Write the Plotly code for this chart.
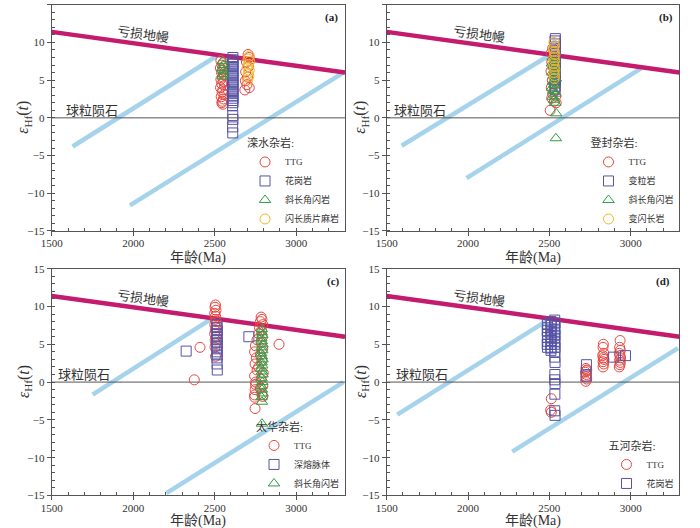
import plotly.graph_objects as go

FONT = "Liberation Serif, Noto Sans CJK SC, serif"
RED = "#e8473f"
PURPLE = "#5552a6"
GREEN = "#2e9e45"
ORANGE = "#f2b62a"
DM_COLOR = "#c41b6e"
CRUST_COLOR = "#a6d3ec"
AXIS_COLOR = "#555555"

# reference curves shared by all panels
dm_age = [1500, 3300]
dm_ehf = [11.4, 6.0]
chur_age = [1500, 3300]
chur_ehf = [0, 0]

# crustal evolution lines, read per panel
a_crust1_age = [1628, 2520]
a_crust1_ehf = [-3.8, 8.3]
a_crust2_age = [1980, 3290]
a_crust2_ehf = [-11.6, 6.0]
b_crust1_age = [1592, 2500]
b_crust1_ehf = [-3.7, 8.3]
b_crust2_age = [1991, 3066]
b_crust2_ehf = [-8.0, 6.6]
c_crust1_age = [1751, 2489]
c_crust1_ehf = [-1.65, 8.5]
c_crust2_age = [2204, 3290]
c_crust2_ehf = [-14.7, 0.0]
d_crust1_age = [1565, 2483]
d_crust1_ehf = [-4.3, 8.1]
d_crust2_age = [2272, 3291]
d_crust2_ehf = [-9.2, 4.5]

# (a) 滦水杂岩
a_ttg_age = [2538, 2552, 2545, 2560, 2535, 2550, 2542, 2557, 2548, 2538, 2555,
             2543, 2560, 2536, 2550, 2546, 2558, 2540, 2553, 2547, 2544, 2550,
             2705, 2712, 2695, 2708, 2690, 2702, 2688, 2698, 2712, 2685]
a_ttg_ehf = [7.6, 7.3, 7.0, 6.8, 6.6, 6.3, 6.0, 5.7, 5.4, 5.1, 4.8,
             4.5, 4.3, 4.0, 3.7, 3.4, 3.1, 2.8, 2.5, 2.2, 2.0, 1.8,
             8.4, 8.0, 7.4, 6.8, 6.1, 5.4, 4.9, 4.4, 4.0, 3.7]
a_gr_age = [2612, 2610, 2613, 2611, 2612, 2610, 2613, 2611, 2612, 2610, 2613,
            2611, 2612, 2610, 2613, 2611, 2612, 2610, 2613, 2611, 2612, 2610,
            2611, 2612, 2610, 2611]
a_gr_ehf = [8.0, 7.7, 7.4, 7.1, 6.8, 6.5, 6.2, 5.9, 5.6, 5.3, 5.0,
            4.7, 4.4, 4.1, 3.8, 3.5, 3.2, 2.9, 2.6, 2.3, 2.0, 1.6,
            0.3, -0.2, -1.2, -2.0]
a_amp_age = [2548, 2552, 2546, 2554, 2550, 2548]
a_amp_ehf = [7.5, 7.0, 6.6, 6.2, 5.8, 5.5]
a_dio_age = [2712, 2705, 2715, 2708, 2700, 2712, 2706, 2710, 2703]
a_dio_ehf = [8.2, 7.8, 7.5, 7.1, 6.7, 6.3, 5.9, 5.5, 5.0]

# (b) 登封杂岩
b_ttg_age = [2520, 2512, 2530, 2515, 2525, 2510, 2532, 2518, 2528, 2512, 2535,
             2520, 2540, 2515, 2530, 2542, 2505]
b_ttg_ehf = [9.2, 8.6, 8.0, 7.4, 6.8, 6.2, 5.6, 5.0, 4.5, 4.0, 3.6,
             3.2, 2.9, 2.6, 2.2, 2.0, 1.0]
b_gra_age = [2537, 2535, 2538, 2534, 2536, 2535, 2537, 2534, 2536,
             2535, 2537, 2534, 2536, 2535, 2537, 2534, 2536, 2535]
b_gra_ehf = [10.5, 10.2, 9.8, 9.4, 9.0, 8.6, 8.2, 7.8, 7.4,
             7.0, 6.6, 6.2, 5.8, 5.4, 5.0, 4.6, 4.2, 3.8]
b_amp_age = [2520, 2530, 2515, 2525, 2535, 2518, 2528, 2540, 2522,
             2532, 2516, 2526, 2538, 2520, 2530, 2536, 2542, 2540]
b_amp_ehf = [8.0, 7.6, 7.2, 6.8, 6.4, 6.0, 5.6, 5.2, 4.8,
             4.4, 4.0, 3.6, 3.2, 2.8, 2.4, 2.0, 0.6, -2.7]
b_dio_age = [2528, 2532, 2526, 2530, 2534, 2528, 2532, 2526, 2530, 2534, 2528, 2532, 2530]
b_dio_ehf = [10.0, 9.6, 9.2, 8.8, 8.4, 8.0, 7.6, 7.2, 6.8, 6.4, 6.0, 5.6, 5.2]

# (c) 太华杂岩
c_ttg_age = [2505, 2502, 2508, 2500, 2506, 2503, 2509, 2501, 2507, 2504, 2500,
             2508, 2503, 2506, 2502, 2505, 2410, 2375,
             2785, 2790, 2780, 2795, 2775, 2788, 2770, 2792, 2760, 2785, 2750,
             2795, 2745, 2780, 2755, 2790, 2748, 2770, 2760, 2798, 2745, 2785,
             2752, 2795, 2748, 2790, 2745, 2780, 2750, 2795, 2745, 2748, 2895]
c_ttg_ehf = [10.2, 9.9, 9.5, 9.1, 8.7, 8.3, 8.0, 7.6, 7.2, 6.8, 6.4,
             6.0, 5.6, 5.1, 4.6, 3.4, 4.6, 0.3,
             8.6, 8.3, 8.0, 7.6, 7.2, 6.8, 6.4, 6.0, 5.6, 5.2, 4.8,
             4.4, 4.0, 3.6, 3.2, 2.8, 2.4, 2.0, 1.6, 1.2, 0.8, 0.4,
             0.0, -0.5, -1.0, -1.6, -2.0, -0.8, -0.3, -1.9, -1.7, -3.5, 5.0]
c_mig_age = [2515, 2513, 2516, 2514, 2515, 2513, 2516, 2514,
             2515, 2513, 2516, 2514, 2515, 2516, 2325, 2710]
c_mig_ehf = [7.6, 7.2, 6.8, 6.4, 6.0, 5.6, 5.2, 4.8,
             4.4, 4.0, 3.6, 3.2, 2.4, 1.6, 4.1, 6.0]
c_amp_age = [2790, 2788, 2792, 2786, 2790, 2794, 2788, 2792, 2786, 2790, 2794, 2788,
             2792, 2786, 2790, 2794, 2788, 2792, 2786, 2790, 2794, 2788, 2790, 2790]
c_amp_ehf = [7.0, 6.6, 6.2, 5.8, 5.4, 5.0, 4.6, 4.2, 3.8, 3.4, 3.0, 2.6,
             2.2, 1.8, 1.4, 1.0, 0.5, 0.0, -0.5, -1.0, -1.5, -2.0, -2.6, -5.5]

# (d) 五河杂岩
d_ttg_age = [2512, 2508, 2512,
             2725, 2730, 2722, 2728, 2725, 2730, 2724, 2727,
             2832, 2830, 2835, 2828, 2832, 2836, 2830, 2834, 2830,
             2935, 2932, 2936, 2930, 2934, 2938, 2932, 2936, 2934, 2930]
d_ttg_ehf = [-2.2, -3.7, -4.0,
             1.8, 1.6, 1.3, 1.0, 0.7, 0.4, 0.1, 1.5,
             5.0, 4.6, 3.8, 3.5, 3.2, 3.0, 2.7, 2.4, 2.0,
             5.5, 4.6, 4.2, 3.8, 3.5, 3.2, 2.9, 2.6, 2.3, 2.0]
d_gr_age = [2488, 2490, 2487, 2489, 2488, 2490, 2487, 2489,
            2510, 2512, 2509, 2511, 2510, 2512, 2509, 2511, 2510,
            2533, 2535, 2532, 2534, 2533, 2535, 2532, 2534, 2533, 2535,
            2534, 2533, 2535, 2534, 2533, 2535, 2534, 2533, 2535,
            2728, 2726, 2893, 2968]
d_gr_ehf = [7.7, 7.2, 6.8, 6.3, 5.9, 5.4, 5.0, 4.6,
            8.0, 7.5, 7.0, 6.5, 6.0, 5.5, 5.0, 4.5, 4.2,
            8.2, 7.8, 7.4, 7.0, 6.6, 6.2, 5.8, 5.4, 5.0, 4.6,
            4.0, 3.3, 2.6, 1.0, 0.3, -0.2, -1.6, -3.8, -4.4,
            2.3, 0.8, 3.3, 3.5]

x_dom = [[0.0739, 0.4929], [0.5524, 0.9707]]
y_dom = [[0.5625, 0.9911], [0.0616, 0.4911]]

panels = [
    dict(x='x', y='y', legend='legend', label='(a)', col=0, row=0,
         crust=[(a_crust1_age, a_crust1_ehf), (a_crust2_age, a_crust2_ehf)],
         series=[('TTG', a_ttg_age, a_ttg_ehf, 'circle-open', RED),
                 ('花岗岩', a_gr_age, a_gr_ehf, 'square-open', PURPLE),
                 ('斜长角闪岩', a_amp_age, a_amp_ehf, 'triangle-up-open', GREEN),
                 ('闪长质片麻岩', a_dio_age, a_dio_ehf, 'circle-open', ORANGE)],
         chur_x=1745, dm_x=2062, label_x=3215),
    dict(x='x2', y='y2', legend='legend2', label='(b)', col=1, row=0,
         crust=[(b_crust1_age, b_crust1_ehf), (b_crust2_age, b_crust2_ehf)],
         series=[('TTG', b_ttg_age, b_ttg_ehf, 'circle-open', RED),
                 ('变粒岩', b_gra_age, b_gra_ehf, 'square-open', PURPLE),
                 ('斜长角闪岩', b_amp_age, b_amp_ehf, 'triangle-up-open', GREEN),
                 ('变闪长岩', b_dio_age, b_dio_ehf, 'circle-open', ORANGE)],
         chur_x=1705, dm_x=2068, label_x=3220),
    dict(x='x3', y='y3', legend='legend3', label='(c)', col=0, row=1,
         crust=[(c_crust1_age, c_crust1_ehf), (c_crust2_age, c_crust2_ehf)],
         series=[('TTG', c_ttg_age, c_ttg_ehf, 'circle-open', RED),
                 ('深熔脉体', c_mig_age, c_mig_ehf, 'square-open', PURPLE),
                 ('斜长角闪岩', c_amp_age, c_amp_ehf, 'triangle-up-open', GREEN)],
         chur_x=1700, dm_x=2062, label_x=3230),
    dict(x='x4', y='y4', legend='legend4', label='(d)', col=1, row=1,
         crust=[(d_crust1_age, d_crust1_ehf), (d_crust2_age, d_crust2_ehf)],
         series=[('TTG', d_ttg_age, d_ttg_ehf, 'circle-open', RED),
                 ('花岗岩', d_gr_age, d_gr_ehf, 'square-open', PURPLE)],
         chur_x=1720, dm_x=2068, label_x=3200),
]

# axis title positions (paper coords)
x_title_y = [1 - 258 / 528, 1 - 521 / 528]
y_title_x = [24 / 700, 361 / 700]

fig = go.Figure()
annotations = []

for p in panels:
    ax = dict(xaxis=p['x'], yaxis=p['y'])
    for ages, ehf in p['crust']:
        fig.add_trace(go.Scatter(x=ages, y=ehf, mode='lines', showlegend=False,
                                 line=dict(color=CRUST_COLOR, width=4.5), hoverinfo='skip', **ax))
    fig.add_trace(go.Scatter(x=chur_age, y=chur_ehf, mode='lines', showlegend=False,
                             line=dict(color='#555555', width=1), hoverinfo='skip', **ax))
    fig.add_trace(go.Scatter(x=dm_age, y=dm_ehf, mode='lines', showlegend=False,
                             line=dict(color=DM_COLOR, width=4.5), hoverinfo='skip', **ax))
    for name, ages, ehf, symbol, color in p['series']:
        fig.add_trace(go.Scatter(
            x=ages, y=ehf, mode='markers', name=name, legend=p['legend'],
            marker=dict(symbol=symbol, size=10, color=color, line=dict(width=1, color=color)),
            **ax))

    xr, yr = p['x'], p['y']
    xd, yd = x_dom[p['col']], y_dom[p['row']]
    annotations += [
        dict(x=p['dm_x'], y=11.0, xref=xr, yref=yr, text='亏损地幔', showarrow=False,
             textangle=7.7, font=dict(family=FONT, size=13, color='#333')),
        dict(x=p['chur_x'], y=1.0, xref=xr, yref=yr, text='球粒陨石', showarrow=False,
             font=dict(family=FONT, size=13, color='#333')),
        dict(x=p['label_x'], y=13.3, xref=xr, yref=yr, text='<b>' + p['label'] + '</b>',
             showarrow=False, font=dict(family=FONT, size=11, color='#222')),
        dict(x=(xd[0] + xd[1]) / 2, y=x_title_y[p['row']], xref='paper', yref='paper',
             text='年龄(Ma)', showarrow=False, xanchor='center', yanchor='middle',
             borderpad=0, font=dict(family=FONT, size=14, color='#333')),
        dict(x=y_title_x[p['col']], y=(yd[0] + yd[1]) / 2, xref='paper', yref='paper',
             text='<i>ε</i><sub>Hf</sub>(<i>t</i>)', showarrow=False, textangle=-90,
             xanchor='center', yanchor='middle',
             font=dict(family=FONT, size=16, color='#333')),
    ]


def x_axis(dom, anchor):
    return dict(domain=dom, anchor=anchor, range=[1500, 3300], tick0=1500, dtick=500,
                automargin=False, ticklabelstandoff=-2,
                showline=True, linecolor=AXIS_COLOR, linewidth=1, mirror=True,
                ticks='outside', ticklen=4, tickcolor=AXIS_COLOR, showgrid=False, zeroline=False,
                minor=dict(ticks='inside', ticklen=3, dtick=100, tickcolor=AXIS_COLOR),
                tickfont=dict(family=FONT, size=11, color='#333'))


def y_axis(dom, anchor):
    return dict(domain=dom, anchor=anchor, range=[-15, 15], tick0=-15, dtick=5,
                automargin=False,
                showline=True, linecolor=AXIS_COLOR, linewidth=1, mirror=True,
                ticks='outside', ticklen=4, tickcolor=AXIS_COLOR, showgrid=False, zeroline=False,
                minor=dict(ticks='inside', ticklen=3, dtick=1, tickcolor=AXIS_COLOR),
                tickfont=dict(family=FONT, size=11, color='#333'))


def legend_box(title, x, y):
    return dict(title=dict(text=title, font=dict(family=FONT, size=11, color='#333')),
                x=x, y=y, xanchor='right', yanchor='bottom', bgcolor='rgba(0,0,0,0)',
                font=dict(family=FONT, size=9, color='#333'), itemwidth=30,
                tracegroupgap=0)


fig.update_layout(
    width=700, height=528,
    margin=dict(l=0, r=0, t=0, b=0, autoexpand=False),
    paper_bgcolor='white', plot_bgcolor='white',
    font=dict(family=FONT),
    xaxis=x_axis(x_dom[0], 'y'), yaxis=y_axis(y_dom[0], 'x'),
    xaxis2=x_axis(x_dom[1], 'y2'), yaxis2=y_axis(y_dom[0], 'x2'),
    xaxis3=x_axis(x_dom[0], 'y3'), yaxis3=y_axis(y_dom[1], 'x3'),
    xaxis4=x_axis(x_dom[1], 'y4'), yaxis4=y_axis(y_dom[1], 'x4'),
    legend=legend_box('滦水杂岩:', x_dom[0][1], y_dom[0][0] - 0.006),
    legend2=legend_box('登封杂岩:', x_dom[1][1], y_dom[0][0] - 0.006),
    legend3=legend_box('太华杂岩:', x_dom[0][1], y_dom[1][0] - 0.006),
    legend4=legend_box('五河杂岩:', x_dom[1][1], y_dom[1][0] - 0.006),
    annotations=annotations,
    showlegend=True,
)

# the page body has a default 8px margin; drop it so the 700x528 figure fills the window
fig.write_html("out.html", config={'displayModeBar': False},
               post_script="document.body.style.margin='0px';")
